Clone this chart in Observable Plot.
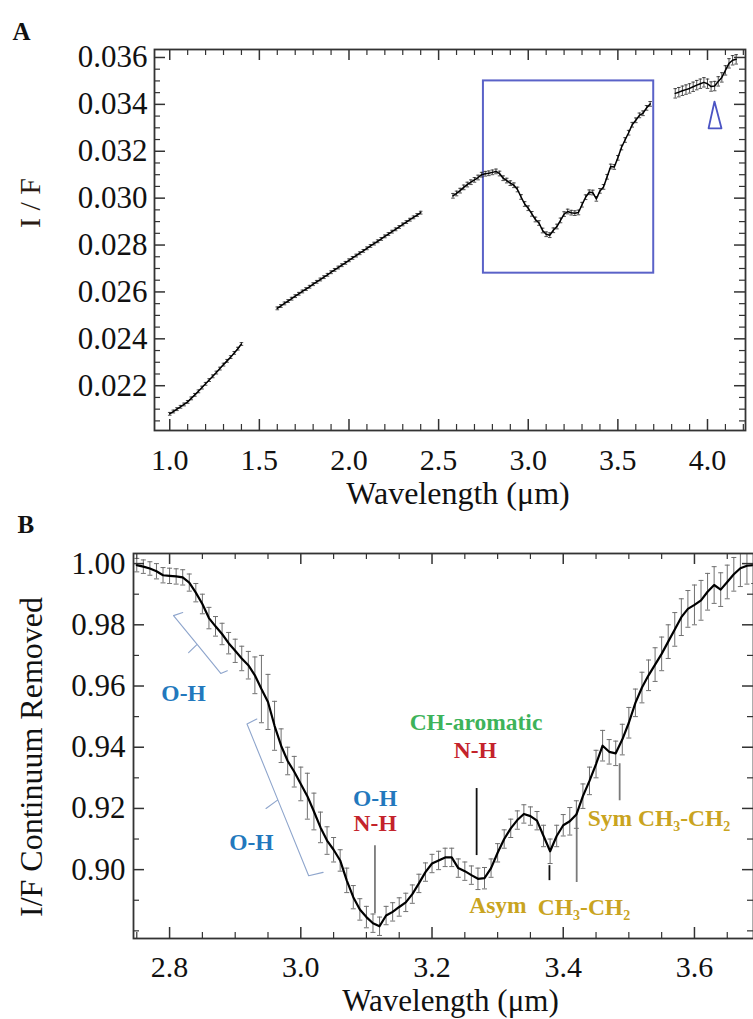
<!DOCTYPE html>
<html><head><meta charset="utf-8">
<script src="https://cdn.jsdelivr.net/npm/d3@7"></script>
<script src="https://cdn.jsdelivr.net/npm/@observablehq/plot@0.6"></script>
<style>
html,body{margin:0;padding:0;background:#fff;overflow:hidden}
#wrap{width:753px;height:1019px;position:relative;overflow:hidden}
#wrap svg{display:block;max-width:none}
#wrap svg, #wrap svg text{font-family:"Liberation Serif","Times New Roman",Times,serif !important}
</style></head><body><div id="wrap"></div>
<script>
// ---------------- Panel A data (I/F spectrum) ----------------
const aSeg1W = [1.00,1.02,1.04,1.06,1.08,1.10,1.12,1.14,1.16,1.18,1.20,1.22,1.24,1.26,1.28,1.30,1.32,1.34,1.36,1.38,1.40];
const aSeg1V = [0.02080,0.02090,0.02100,0.02110,0.02120,0.02131,0.02146,0.02161,0.02176,0.02192,0.02208,0.02224,0.02240,0.02256,0.02273,0.02290,0.02306,0.02322,0.02340,0.02358,0.02378];
const aSeg2W = [1.60,1.62,1.64,1.66,1.68,1.70,1.72,1.74,1.76,1.78,1.80,1.82,1.84,1.86,1.88,1.90,1.92,1.94,1.96,1.98,2.00,2.02,2.04,2.06,2.08,2.10,2.12,2.14,2.16,2.18,2.20,2.22,2.24,2.26,2.28,2.30,2.32,2.34,2.36,2.38,2.40];
const aSeg2V = [0.02530,0.02540,0.02551,0.02561,0.02571,0.02582,0.02592,0.02602,0.02612,0.02622,0.02633,0.02643,0.02653,0.02663,0.02673,0.02684,0.02694,0.02704,0.02714,0.02724,0.02735,0.02745,0.02755,0.02765,0.02775,0.02786,0.02796,0.02806,0.02816,0.02826,0.02837,0.02847,0.02857,0.02867,0.02877,0.02888,0.02898,0.02908,0.02918,0.02928,0.02938];
const aSeg3W = [2.58,2.60,2.62,2.64,2.66,2.68,2.70,2.72,2.74,2.76,2.78,2.80,2.82,2.84,2.86,2.88,2.90,2.92,2.94,2.96,2.98,3.00,3.02,3.04,3.06,3.08,3.10,3.12,3.14,3.16,3.18,3.20,3.22,3.24,3.26,3.28,3.30,3.32,3.34,3.36,3.38,3.40,3.42,3.44,3.46,3.48,3.50,3.52,3.54,3.56,3.58,3.60,3.62,3.64,3.66,3.68];
const aSeg3V = [0.03010,0.03020,0.03032,0.03046,0.03058,0.03068,0.03078,0.03088,0.03100,0.03104,0.03106,0.03110,0.03114,0.03105,0.03085,0.03075,0.03064,0.03055,0.03037,0.03005,0.02975,0.02957,0.02933,0.02909,0.02894,0.02862,0.02846,0.02842,0.02863,0.02879,0.02905,0.02932,0.02943,0.02938,0.02936,0.02939,0.02972,0.03004,0.03025,0.03024,0.02997,0.03031,0.03048,0.03091,0.03135,0.03133,0.03172,0.03216,0.03248,0.03279,0.03313,0.03332,0.03353,0.03362,0.03385,0.03402];
const aSeg4W = [3.82,3.84,3.86,3.88,3.90,3.92,3.94,3.96,3.98,4.00,4.02,4.04,4.06,4.08,4.10,4.12,4.14,4.16];
const aSeg4V = [0.03447,0.03452,0.03458,0.03463,0.03468,0.03475,0.03482,0.03488,0.03494,0.03488,0.03476,0.03478,0.03498,0.03515,0.03545,0.03575,0.03588,0.03592];
const aSegErr = [0.00006, 0.00006, 0.00010, 0.00020];

const aXTicks = [1.0,1.5,2.0,2.5,3.0,3.5,4.0];
const aXMinor = [1.1,1.2,1.3,1.4,1.6,1.7,1.8,1.9,2.1,2.2,2.3,2.4,2.6,2.7,2.8,2.9,3.1,3.2,3.3,3.4,3.6,3.7,3.8,3.9,4.1,4.2];
const aYTicks = [0.022,0.024,0.026,0.028,0.030,0.032,0.034,0.036];
const aYMinor = [0.0205,0.021,0.0215,0.0225,0.023,0.0235,0.0245,0.025,0.0255,0.0265,0.027,0.0275,0.0285,0.029,0.0295,0.0305,0.031,0.0315,0.0325,0.033,0.0335,0.0345,0.035,0.0355];

// zoom box and band marker (data coordinates)
const aBox = [{x1: 2.75, x2: 3.70, y1: 0.0268, y2: 0.0350}];
const aTriX = [4.006, 4.039, 4.078, 4.006];
const aTriY = [0.03298, 0.03412, 0.03298, 0.03298];

// ---------------- Panel B data (continuum removed) ----------------
const bWave = [2.75,2.76,2.77,2.78,2.79,2.80,2.81,2.82,2.83,2.84,2.85,2.86,2.87,2.88,2.89,2.90,2.91,2.92,2.93,2.94,2.95,2.96,2.97,2.98,2.99,3.00,3.01,3.02,3.03,3.04,3.05,3.06,3.07,3.08,3.09,3.10,3.11,3.12,3.13,3.14,3.15,3.16,3.17,3.18,3.19,3.20,3.21,3.22,3.23,3.24,3.25,3.26,3.27,3.28,3.29,3.30,3.31,3.32,3.33,3.34,3.35,3.36,3.37,3.38,3.39,3.40,3.41,3.42,3.43,3.44,3.45,3.46,3.47,3.48,3.49,3.50,3.51,3.52,3.53,3.54,3.55,3.56,3.57,3.58,3.59,3.60,3.61,3.62,3.63,3.64,3.65,3.66,3.67,3.68,3.69];
const bValue = [0.9995,0.9990,0.9984,0.9975,0.9962,0.9960,0.9958,0.9955,0.9938,0.9905,0.9868,0.9822,0.9795,0.9770,0.9740,0.9715,0.9690,0.9668,0.9635,0.9590,0.9548,0.9470,0.9405,0.9355,0.9320,0.9280,0.9240,0.9190,0.9138,0.9095,0.9065,0.9030,0.8965,0.8910,0.8870,0.8845,0.8825,0.8815,0.8850,0.8862,0.8878,0.8893,0.8920,0.8955,0.8992,0.9020,0.9030,0.9040,0.9040,0.9005,0.8995,0.8982,0.8970,0.8972,0.9005,0.9055,0.9100,0.9135,0.9162,0.9182,0.9175,0.9160,0.9110,0.9060,0.9110,0.9145,0.9158,0.9180,0.9240,0.9290,0.9345,0.9405,0.9385,0.9380,0.9425,0.9480,0.9545,0.9595,0.9635,0.9670,0.9705,0.9745,0.9785,0.9825,0.9852,0.9865,0.9880,0.9908,0.9930,0.9915,0.9940,0.9965,0.9985,0.9993,0.9995];
const bError = [0.0022,0.0022,0.0022,0.0025,0.0025,0.0025,0.0025,0.0025,0.0028,0.0030,0.0032,0.0035,0.0032,0.0035,0.0035,0.0038,0.0040,0.0045,0.0060,0.0110,0.0090,0.0080,0.0055,0.0045,0.0050,0.0055,0.0075,0.0060,0.0050,0.0045,0.0040,0.0035,0.0040,0.0038,0.0035,0.0035,0.0030,0.0030,0.0030,0.0030,0.0030,0.0030,0.0030,0.0030,0.0030,0.0030,0.0030,0.0030,0.0030,0.0030,0.0030,0.0030,0.0035,0.0035,0.0030,0.0030,0.0030,0.0030,0.0030,0.0030,0.0030,0.0030,0.0035,0.0040,0.0035,0.0035,0.0045,0.0045,0.0040,0.0045,0.0045,0.0050,0.0040,0.0040,0.0050,0.0050,0.0045,0.0050,0.0050,0.0055,0.0055,0.0055,0.0055,0.0060,0.0060,0.0065,0.0065,0.0060,0.0060,0.0055,0.0055,0.0055,0.0060,0.0060,0.0060];

const bXTicks = [2.8,3.0,3.2,3.4,3.6];
const bXMinor = [2.75,2.85,2.9,2.95,3.05,3.1,3.15,3.25,3.3,3.35,3.45,3.5,3.55,3.65];
const bYTicks = [0.90,0.92,0.94,0.96,0.98,1.00];
const bYMinor = [0.88,0.89,0.91,0.93,0.95,0.97,0.99];

// absorption band annotations
const bBrackets = [
  {id: "b1", pts: [[2.820,0.9840],[2.806,0.9830],[2.842,0.9736],[2.829,0.9709],[2.842,0.9736],[2.878,0.9641],[2.888,0.9650]]},
  {id: "b2", pts: [[2.933,0.9492],[2.918,0.9476],[2.965,0.9228],[2.947,0.9200],[2.965,0.9228],[3.012,0.8980],[3.034,0.8991]]}
];
const bMarkers = [
  {x: 3.113, y1: 0.8856, y2: 0.9078, kind: "gray"},
  {x: 3.268, y1: 0.9046, y2: 0.9265, kind: "dark"},
  {x: 3.379, y1: 0.8964, y2: 0.9013, kind: "dark"},
  {x: 3.4205, y1: 0.8958, y2: 0.9183, kind: "gray"},
  {x: 3.486, y1: 0.9225, y2: 0.9346, kind: "gray"}
];
const bLabels = [
  {text: "O-H", x: 2.8213, y: 0.9575, kind: "OH", anchor: "middle"},
  {text: "O-H", x: 2.9247, y: 0.9088, kind: "OH", anchor: "middle"},
  {text: "O-H", x: 3.1133, y: 0.9232, kind: "OH", anchor: "middle"},
  {text: "N-H", x: 3.1133, y: 0.9150, kind: "NH", anchor: "middle"},
  {text: "CH-aromatic", x: 3.2670, y: 0.9480, kind: "CH", anchor: "middle"},
  {text: "N-H", x: 3.2660, y: 0.9389, kind: "NH", anchor: "middle"},
  {text: "Asym", x: 3.3004, y: 0.8883, kind: "al", anchor: "middle"},
  {text: "CH\u2083-CH\u2082", x: 3.3612, y: 0.8876, kind: "al", anchor: "start"},
  {text: "Sym CH\u2083-CH\u2082", x: 3.4373, y: 0.9167, kind: "al", anchor: "start"}
];

// ---------------- drawing ----------------
const serif = '"Liberation Serif", "Times New Roman", Times, serif';
const labelColor = {OH: "#2278bd", NH: "#c4232b", CH: "#3db35a", al: "#c9a41f"};
const markerColor = {gray: "#7a7a7a", dark: "#111"};

function frameTicks(xMaj, xMin, yMaj, yMin, fw, fh) {
  const maj = 11, mn = 6, st = "#333";
  return [
    Plot.ruleX(xMaj, {x: d => d, insetTop: fh - maj, stroke: st, strokeWidth: 1.5}),
    Plot.ruleX(xMaj, {x: d => d, insetBottom: fh - maj, stroke: st, strokeWidth: 1.5}),
    Plot.ruleX(xMin, {x: d => d, insetTop: fh - mn, stroke: st, strokeWidth: 1.2}),
    Plot.ruleX(xMin, {x: d => d, insetBottom: fh - mn, stroke: st, strokeWidth: 1.2}),
    Plot.ruleY(yMaj, {y: d => d, insetRight: fw - maj, stroke: st, strokeWidth: 1.5}),
    Plot.ruleY(yMaj, {y: d => d, insetLeft: fw - maj, stroke: st, strokeWidth: 1.5}),
    Plot.ruleY(yMin, {y: d => d, insetRight: fw - mn, stroke: st, strokeWidth: 1.2}),
    Plot.ruleY(yMin, {y: d => d, insetLeft: fw - mn, stroke: st, strokeWidth: 1.2})
  ];
}

// Panel A
const aData = [];
[[aSeg1W, aSeg1V], [aSeg2W, aSeg2V], [aSeg3W, aSeg3V], [aSeg4W, aSeg4V]].forEach(([w, v], s) => {
  w.forEach((x, i) => aData.push({w: x, v: v[i], e: aSegErr[s], seg: s}));
});
const aTri = aTriX.map((x, i) => ({x, y: aTriY[i]}));
const capA = 0.010;

const A = {W: 753, H: 513, mt: 49, mb: 83, ml: 154, mr: 8};
const aFw = A.W - A.ml - A.mr, aFh = A.H - A.mt - A.mb;
const plotA = Plot.plot({
  width: A.W, height: A.H,
  marginTop: A.mt, marginBottom: A.mb, marginLeft: A.ml, marginRight: A.mr,
  style: {background: "#fff", color: "#111"},
  x: {domain: [0.915, 4.212], axis: null},
  y: {domain: [0.02009, 0.03634], axis: null},
  marks: [
    Plot.rect(aBox, {x1: "x1", x2: "x2", y1: "y1", y2: "y2", fill: "none", stroke: "#5a62c8", strokeWidth: 2}),
    Plot.line(aTri, {x: "x", y: "y", stroke: "#4b54c4", strokeWidth: 1.8}),
    Plot.ruleX(aData, {x: "w", y1: d => d.v - d.e, y2: d => d.v + d.e, stroke: "#222", strokeWidth: 0.8}),
    Plot.link(aData, {x1: d => d.w - capA, x2: d => d.w + capA, y1: d => d.v + d.e, y2: d => d.v + d.e, stroke: "#222", strokeWidth: 0.8}),
    Plot.link(aData, {x1: d => d.w - capA, x2: d => d.w + capA, y1: d => d.v - d.e, y2: d => d.v - d.e, stroke: "#222", strokeWidth: 0.8}),
    Plot.line(aData, {x: "w", y: "v", z: "seg", stroke: "#000", strokeWidth: 1.5}),
    ...frameTicks(aXTicks, aXMinor, aYTicks, aYMinor, aFw, aFh),
    Plot.frame({stroke: "#333", strokeWidth: 1.8}),
    Plot.text(aXTicks, {x: d => d, frameAnchor: "bottom", dy: 30, lineAnchor: "middle", textAnchor: "middle", text: d => d.toFixed(1), fontSize: 30, fontFamily: serif, fill: "#111"}),
    Plot.text(aYTicks, {y: d => d, frameAnchor: "left", dx: -7, lineAnchor: "middle", textAnchor: "end", text: d => d.toFixed(3), fontSize: 31, fontFamily: serif, fill: "#111"}),
    Plot.text(["Wavelength (\u03bcm)"], {frameAnchor: "bottom", dx: 8, dy: 63, lineAnchor: "middle", textAnchor: "middle", text: d => d, fontSize: 32, fontFamily: serif, fill: "#111"}),
    Plot.text(["I / F"], {frameAnchor: "left", dx: -124, dy: -37, rotate: -90, lineAnchor: "middle", textAnchor: "middle", text: d => d, fontSize: 30, fontFamily: serif, fill: "#2a1a12"}),
    Plot.text(["A"], {frameAnchor: "top-left", dx: -142, dy: -18, lineAnchor: "middle", textAnchor: "start", text: d => d, fontSize: 25, fontFamily: serif, fontWeight: "bold", fill: "#111"})
  ]
});

// Panel B
const bData = bWave.map((w, i) => ({w, v: bValue[i], e: bError[i]}));
const capB = 0.0038;
const bBracketPts = bBrackets.flatMap(b => b.pts.map(([x, y]) => ({id: b.id, x, y})));

const B = {W: 753, H: 506, mt: 40, mb: 81, ml: 133, mr: 0};
const bFw = B.W - B.ml - B.mr, bFh = B.H - B.mt - B.mb;
const labelOpts = {x: "x", y: "y", text: "text", fill: d => labelColor[d.kind], fontSize: 23.5, fontFamily: serif, fontWeight: "bold", lineAnchor: "middle"};
const plotB = Plot.plot({
  width: B.W, height: B.H,
  marginTop: B.mt, marginBottom: B.mb, marginLeft: B.ml, marginRight: B.mr,
  style: {background: "transparent", color: "#111", overflow: "visible"},
  x: {domain: [2.745, 3.69], axis: null},
  y: {domain: [0.8775, 1.0033], axis: null},
  marks: [
    Plot.line(bBracketPts, {x: "x", y: "y", z: "id", stroke: "#8ea5cc", strokeWidth: 1.1}),
    Plot.ruleX(bMarkers, {x: "x", y1: "y1", y2: "y2", stroke: d => markerColor[d.kind], strokeWidth: 1.8}),
    Plot.ruleX(bData, {x: "w", y1: d => d.v - d.e, y2: d => d.v + d.e, stroke: "#707070", strokeWidth: 1, clip: true}),
    Plot.link(bData, {x1: d => d.w - capB, x2: d => d.w + capB, y1: d => d.v + d.e, y2: d => d.v + d.e, stroke: "#707070", strokeWidth: 1, clip: true}),
    Plot.link(bData, {x1: d => d.w - capB, x2: d => d.w + capB, y1: d => d.v - d.e, y2: d => d.v - d.e, stroke: "#707070", strokeWidth: 1, clip: true}),
    Plot.line(bData, {x: "w", y: "v", stroke: "#000", strokeWidth: 2.2}),
    Plot.text(bLabels.filter(d => d.anchor === "middle"), {...labelOpts, textAnchor: "middle"}),
    Plot.text(bLabels.filter(d => d.anchor === "start"), {...labelOpts, textAnchor: "start"}),
    ...frameTicks(bXTicks, bXMinor, bYTicks, bYMinor, bFw, bFh),
    Plot.frame({stroke: "#333", strokeWidth: 1.8}),
    Plot.text(bXTicks, {x: d => d, frameAnchor: "bottom", dy: 29, lineAnchor: "middle", textAnchor: "middle", text: d => d.toFixed(1), fontSize: 30, fontFamily: serif, fill: "#111"}),
    Plot.text(bYTicks, {y: d => d, frameAnchor: "left", dx: -8, lineAnchor: "middle", textAnchor: "end", text: d => d.toFixed(2), fontSize: 31, fontFamily: serif, fill: "#111"}),
    Plot.text(["Wavelength (\u03bcm)"], {frameAnchor: "bottom", dx: 7, dy: 63, lineAnchor: "middle", textAnchor: "middle", text: d => d, fontSize: 31, fontFamily: serif, fill: "#111"}),
    Plot.text(["I/F Continuum Removed"], {frameAnchor: "left", dx: -102, dy: 11, rotate: -90, lineAnchor: "middle", textAnchor: "middle", text: d => d, fontSize: 32, fontFamily: serif, fill: "#111"}),
    Plot.text(["B"], {frameAnchor: "top-left", dx: -116, dy: -29, lineAnchor: "middle", textAnchor: "start", text: d => d, fontSize: 25, fontFamily: serif, fontWeight: "bold", fill: "#111"})
  ]
});

const wrap = document.getElementById("wrap");
wrap.appendChild(plotA);
wrap.appendChild(plotB);
</script></body></html>
